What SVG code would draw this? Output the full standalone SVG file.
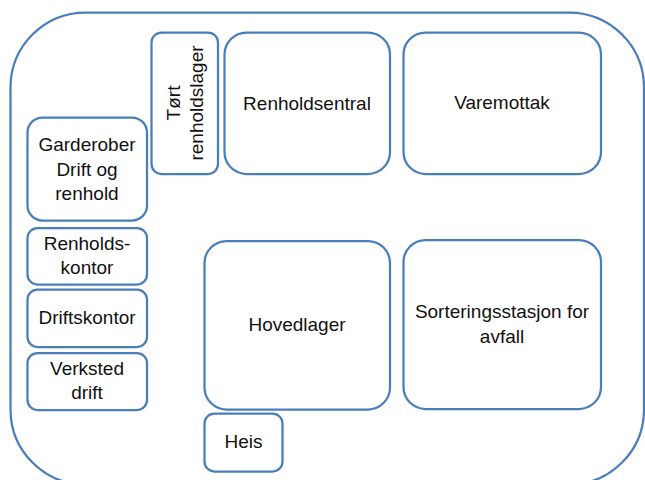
<svg xmlns="http://www.w3.org/2000/svg" width="645" height="480" viewBox="0 0 645 480">
<style>
.b{fill:#fff;stroke:#4a7ebb;stroke-width:2.25}
.t{font-family:"Liberation Sans",Arial,sans-serif;font-size:19px;fill:#111;text-anchor:middle}
</style>
<rect width="645" height="480" fill="#fff"/>
<g id="outer"><rect class="b" x="10.5" y="12.5" width="633.5" height="472" rx="75"/></g>
<g id="tort"><rect class="b" x="151.5" y="32.5" width="66.5" height="141.5" rx="10"/>
<text class="t" transform="translate(180,103) rotate(-90)">Tørt</text>
<text class="t" transform="translate(203,103) rotate(-90)">renholdslager</text></g>
<g id="renholdsentral"><rect class="b" x="224.5" y="32.5" width="165.5" height="141.5" rx="22"/>
<text class="t" x="307" y="110">Renholdsentral</text></g>
<g id="varemottak"><rect class="b" x="403.5" y="32.5" width="197.5" height="141.5" rx="22"/>
<text class="t" x="502" y="109">Varemottak</text></g>
<g id="garderober"><rect class="b" x="27.5" y="117.5" width="119.5" height="103" rx="15"/>
<text class="t" x="87" y="151">Garderober</text>
<text class="t" x="87" y="175.5">Drift og</text>
<text class="t" x="87" y="200">renhold</text></g>
<g id="renholdskontor"><rect class="b" x="27.5" y="228" width="119.5" height="56.5" rx="10"/>
<text class="t" x="87" y="250">Renholds-</text>
<text class="t" x="87" y="274">kontor</text></g>
<g id="driftskontor"><rect class="b" x="27.5" y="289.5" width="119.5" height="57.5" rx="10"/>
<text class="t" x="87" y="324">Driftskontor</text></g>
<g id="verksted"><rect class="b" x="27.5" y="353" width="119.5" height="57" rx="10"/>
<text class="t" x="87" y="375">Verksted</text>
<text class="t" x="87" y="399">drift</text></g>
<g id="hovedlager"><rect class="b" x="204.5" y="241" width="185.5" height="168.5" rx="22"/>
<text class="t" x="297" y="331">Hovedlager</text></g>
<g id="sortering"><rect class="b" x="403.5" y="240" width="197.5" height="169" rx="22"/>
<text class="t" x="502" y="318">Sorteringsstasjon for</text>
<text class="t" x="502" y="343">avfall</text></g>
<g id="heis"><rect class="b" x="204.5" y="413.5" width="78" height="58" rx="10"/>
<text class="t" x="243.5" y="448">Heis</text></g>
<g id="connectors"/>
</svg>
